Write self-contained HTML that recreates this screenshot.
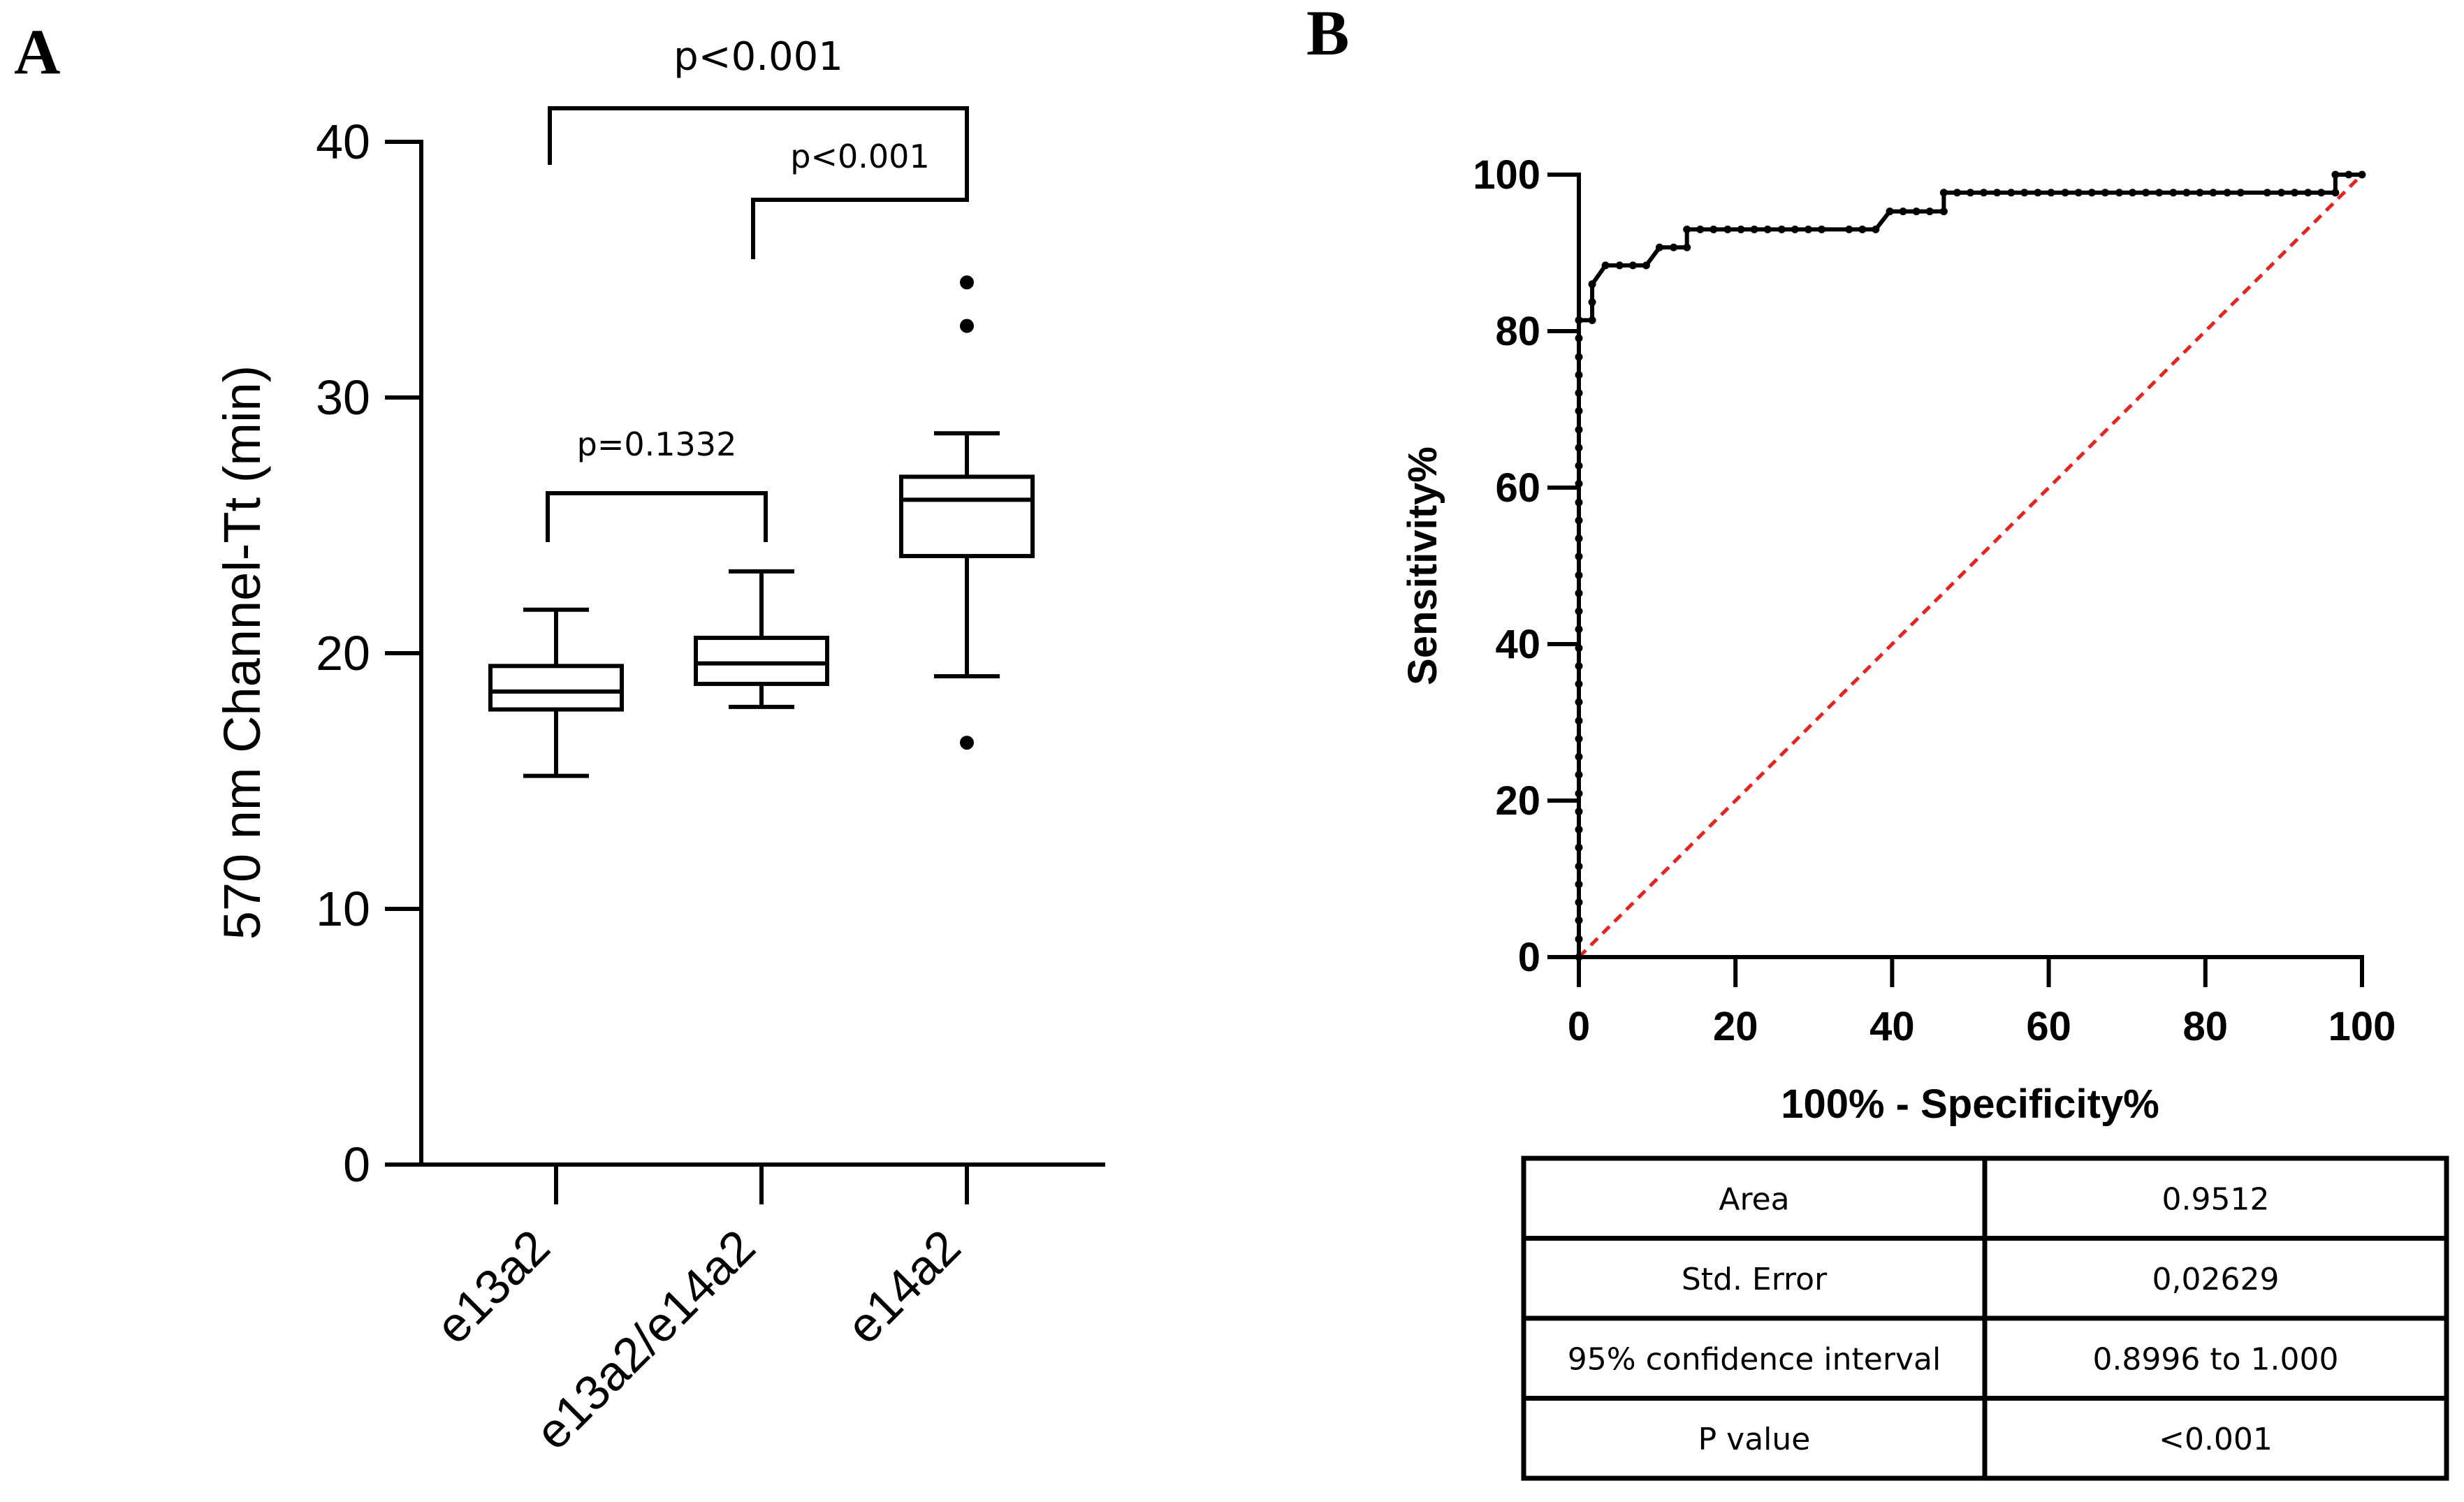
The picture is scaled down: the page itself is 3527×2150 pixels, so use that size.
<!DOCTYPE html>
<html><head><meta charset="utf-8"><style>
html,body{margin:0;padding:0;background:#fff;}
svg{display:block;}
</style></head><body>
<svg id="fig" width="3527" height="2150" viewBox="0 0 3527 2150" xmlns="http://www.w3.org/2000/svg">
<rect width="3527" height="2150" fill="#fff"/>
<text x="20" y="105" font-family="Liberation Serif, serif" font-weight="bold" font-size="92">A</text>
<text x="1870" y="78" font-family="Liberation Serif, serif" font-weight="bold" font-size="92">B</text>
<g id="pa"></g>
<g id="pb"></g>
<g id="tbl"></g>
</svg>
<script>
const NS="http://www.w3.org/2000/svg";
// Panel A data
const groups=["e13a2","e13a2/e14a2","e14a2"];
const whiskLo=[15.2,17.9,19.1];
const q1=[17.8,18.8,23.8];
const med=[18.5,19.6,26.0];
const q3=[19.5,20.6,26.9];
const whiskHi=[21.7,23.2,28.6];
const outlierGroup=[2,2,2];
const outlierVal=[34.5,32.8,16.5];
const yTicksA=[0,10,20,30,40];
// ROC data
const fpr=[0,0,0,0,0,0,0,0,0,0,0,0,0,0,0,0,0,0,0,0,0,0,0,0,0,0,0,0,0,0,0,0,0,0,0,0,
1.7,1.7,1.7,3.4,5.2,6.9,8.6,10.3,12.1,13.8,13.8,15.5,17.2,19.0,20.7,22.4,24.1,25.9,27.6,29.3,31.0,34.5,36.2,37.9,
39.7,41.4,43.1,44.8,46.6,46.6,48.3,50.0,51.7,53.4,55.2,56.9,58.6,60.3,62.1,63.8,65.5,67.2,69.0,70.7,72.4,74.1,75.9,77.6,79.3,81.0,82.8,84.5,87.9,89.7,91.4,93.1,94.8,96.6,96.6,98.3,100];
const tpr=[0,2.3,4.7,7.0,9.3,11.6,14.0,16.3,18.6,20.9,23.3,25.6,27.9,30.2,32.6,34.9,37.2,39.5,41.9,44.2,46.5,48.8,51.2,53.5,55.8,58.1,60.5,62.8,65.1,67.4,69.8,72.1,74.4,76.7,79.1,81.4,
81.4,83.7,86.0,88.4,88.4,88.4,88.4,90.7,90.7,90.7,93.0,93.0,93.0,93.0,93.0,93.0,93.0,93.0,93.0,93.0,93.0,93.0,93.0,93.0,
95.3,95.3,95.3,95.3,95.3,97.7,97.7,97.7,97.7,97.7,97.7,97.7,97.7,97.7,97.7,97.7,97.7,97.7,97.7,97.7,97.7,97.7,97.7,97.7,97.7,97.7,97.7,97.7,97.7,97.7,97.7,97.7,97.7,97.7,100,100,100];
const rocTicks=[0,20,40,60,80,100];
const tableRows=[["Area","0.9512"],["Std. Error","0,02629"],["95% confidence interval","0.8996 to 1.000"],["P value","<0.001"]];

function el(tag,attrs,parent,text){const e=document.createElementNS(NS,tag);for(const k in attrs)e.setAttribute(k,attrs[k]);if(text!==undefined)e.textContent=text;parent.appendChild(e);return e;}
const FA="Liberation Sans, sans-serif";
// Panel A
const pa=document.getElementById('pa');
const yA=v=>1667-v*36.6;
const xA=i=>796+i*294;
let e=el('line',{x1:603,y1:200,x2:603,y2:1667,stroke:'#000','stroke-width':6},pa);

e=el('line',{x1:600,y1:1667,x2:1582,y2:1667,stroke:'#000','stroke-width':6},pa);

yTicksA.forEach(v=>{
 let t=el('line',{x1:551,y1:yA(v),x2:603,y2:yA(v),stroke:'#000','stroke-width':6},pa);
 
 t=el('text',{x:530,y:yA(v)+24,'text-anchor':'end','font-family':FA,'font-size':70},pa,String(v));
 
});
e=el('text',{x:0,y:0,transform:'translate(372,934) rotate(-90)','text-anchor':'middle','font-family':FA,'font-size':74},pa,'570 nm Channel-Tt (min)');

groups.forEach((g,i)=>{
 const x=xA(i);
 let t=el('line',{x1:x,y1:1667,x2:x,y2:1724,stroke:'#000','stroke-width':6},pa);
 
 t=el('text',{x:0,y:0,transform:`translate(${x-5},${1790}) rotate(-45)`,'text-anchor':'end','font-family':FA,'font-size':70},pa,g);
 
 const gg=el('g',{},pa);
 
 el('line',{x1:x,y1:yA(whiskHi[i]),x2:x,y2:yA(q3[i]),stroke:'#000','stroke-width':6},gg);
 el('line',{x1:x,y1:yA(q1[i]),x2:x,y2:yA(whiskLo[i]),stroke:'#000','stroke-width':6},gg);
 el('line',{x1:x-47,y1:yA(whiskHi[i]),x2:x+47,y2:yA(whiskHi[i]),stroke:'#000','stroke-width':6},gg);
 el('line',{x1:x-47,y1:yA(whiskLo[i]),x2:x+47,y2:yA(whiskLo[i]),stroke:'#000','stroke-width':6},gg);
 el('rect',{x:x-94,y:yA(q3[i]),width:188,height:yA(q1[i])-yA(q3[i]),fill:'none',stroke:'#000','stroke-width':6},gg);
 el('line',{x1:x-94,y1:yA(med[i]),x2:x+94,y2:yA(med[i]),stroke:'#000','stroke-width':6},gg);
});
outlierVal.forEach((v,k)=>{
 const c=el('circle',{cx:xA(outlierGroup[k]),cy:yA(v),r:10,fill:'#000'},pa);
 
});
function bracket(x1,x2,y,l1,l2,label,ly,fs,name){
 const g=el('g',{},pa);
 
 el('polyline',{points:`${x1},${l1} ${x1},${y} ${x2},${y} ${x2},${l2}`,fill:'none',stroke:'#000','stroke-width':6},g);
 el('text',{x:(x1+x2)/2,y:ly,'text-anchor':'middle','font-family':'DejaVu Sans, sans-serif','font-size':fs},g,label);
}
bracket(787,1384,155,236,236,'p<0.001',100,56,'bracket-e13a2-vs-e14a2');
bracket(1078,1384,286,371,236,'p<0.001',240,46,'bracket-mixed-vs-e14a2');
bracket(784,1096,706,776,776,'p=0.1332',652,46,'bracket-e13a2-vs-mixed');
// Panel B
const pb=document.getElementById('pb');
const xB=v=>2260+v*11.21, yB=v=>1370-v*11.2;
e=el('line',{x1:xB(0),y1:yB(0),x2:xB(100),y2:yB(100),stroke:'#e8231f','stroke-width':5,'stroke-dasharray':'14 10'},pb);

e=el('line',{x1:2260,y1:247,x2:2260,y2:1373,stroke:'#000','stroke-width':6},pb);

e=el('line',{x1:2257,y1:1370,x2:3384,y2:1370,stroke:'#000','stroke-width':6},pb);

rocTicks.forEach(v=>{
 let t=el('line',{x1:2215,y1:yB(v),x2:2260,y2:yB(v),stroke:'#000','stroke-width':6},pb);
 
 t=el('text',{x:2205,y:yB(v)+20,'text-anchor':'end','font-family':FA,'font-weight':'bold','font-size':58},pb,String(v));
 
 t=el('line',{x1:xB(v),y1:1370,x2:xB(v),y2:1413,stroke:'#000','stroke-width':6},pb);
 
 t=el('text',{x:xB(v),y:1489,'text-anchor':'middle','font-family':FA,'font-weight':'bold','font-size':58},pb,String(v));
 
});
e=el('text',{x:2820,y:1600,'text-anchor':'middle','font-family':FA,'font-weight':'bold','font-size':58},pb,'100% - Specificity%');

e=el('text',{x:0,y:0,transform:'translate(2056,810) rotate(-90)','text-anchor':'middle','font-family':FA,'font-weight':'bold','font-size':58},pb,'Sensitivity%');

e=el('polyline',{points:fpr.map((f,i)=>xB(f)+','+yB(tpr[i])).join(' '),fill:'none',stroke:'#000','stroke-width':6},pb);

fpr.forEach((f,i)=>{
 const c=el('circle',{cx:xB(f),cy:yB(tpr[i]),r:5.5,fill:'#000'},pb);
 
});
// Table
const tb=document.getElementById('tbl');
const tx0=2181,tx1=3502,tcol=2841,ty0=1658,rh=114.5;
e=el('rect',{x:tx0,y:ty0,width:tx1-tx0,height:rh*4,fill:'none',stroke:'#000','stroke-width':7},tb);

el('line',{x1:tcol,y1:ty0,x2:tcol,y2:ty0+rh*4,stroke:'#000','stroke-width':7},tb);
tableRows.forEach((r,i)=>{
 if(i>0) el('line',{x1:tx0,y1:ty0+rh*i,x2:tx1,y2:ty0+rh*i,stroke:'#000','stroke-width':7},tb);
 let t=el('text',{x:(tx0+tcol)/2,y:ty0+rh*i+rh/2+16,'text-anchor':'middle','font-family':'DejaVu Sans, sans-serif','font-size':44},tb,r[0]);
 
 t=el('text',{x:(tcol+tx1)/2,y:ty0+rh*i+rh/2+16,'text-anchor':'middle','font-family':'DejaVu Sans, sans-serif','font-size':44},tb,r[1]);
 
});
</script>
</body></html>
